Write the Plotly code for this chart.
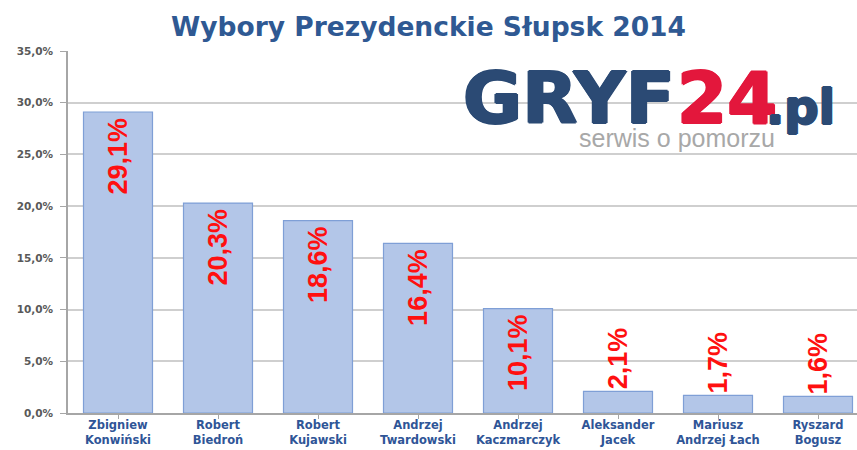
import plotly.graph_objects as go

# ---- data ----
candidates = [
    "Zbigniew<br>Konwiński",
    "Robert<br>Biedroń",
    "Robert<br>Kujawski",
    "Andrzej<br>Twardowski",
    "Andrzej<br>Kaczmarczyk",
    "Aleksander<br>Jacek",
    "Mariusz<br>Andrzej Łach",
    "Ryszard<br>Bogusz",
]
votes = [29.1, 20.3, 18.6, 16.4, 10.1, 2.1, 1.7, 1.6]
y_tick_values = [0, 5, 10, 15, 20, 25, 30, 35]
y_tick_labels = ["0,0%", "5,0%", "10,0%", "15,0%", "20,0%", "25,0%", "30,0%", "35,0%"]
title_text = "Wybory Prezydenckie Słupsk 2014"

# ---- geometry ----
W, H = 857, 450
ML, MR, MT, MB = 68, 0, 51, 37
PW, PH = W - ML - MR, H - MT - MB


def px_x(px):
    return (px - ML) / PW


def px_y(py):
    return (H - MB - py) / PH


fig = go.Figure()
fig.add_trace(go.Bar(
    x=list(range(len(candidates))),
    y=votes,
    width=0.69,
    marker=dict(color="#b3c6e8", line=dict(color="#7f9fd6", width=1.2)),
    hoverinfo="skip",
))

label_font = dict(family="Liberation Sans Narrow, Arial Narrow, Liberation Sans, Arial",
                  size=27, color="#ff1010", weight="bold")
annotations = []
for i, v in enumerate(votes):
    txt = f"{v:.1f}".replace(".", ",") + "%"
    inside = v >= 5
    annotations.append(dict(
        x=i, y=v, xref="x", yref="y", text=txt, showarrow=False,
        textangle=-90, font=label_font,
        yanchor="top" if inside else "bottom",
        yshift=-4 if inside else 0,
    ))


def thick(c):
    return f"1.2px 0 0 {c}, -1.2px 0 0 {c}, 0 1px 0 {c}, 0 -1px 0 {c}"


navy, red = "#2b4a74", "#e3173c"
# logo block
annotations += [
    dict(xref="paper", yref="paper", x=px_x(461), y=px_y(123), text="GRYF",
         xanchor="left", yanchor="bottom", showarrow=False, yshift=-19,
         font=dict(family="DejaVu Sans", size=72, color=navy, weight="bold", shadow=thick(navy))),
    dict(xref="paper", yref="paper", x=px_x(675), y=px_y(123), text="24",
         xanchor="left", yanchor="bottom", showarrow=False, yshift=-19,
         font=dict(family="DejaVu Sans", size=72, color=red, weight="bold", shadow=thick(red))),
    dict(xref="paper", yref="paper", x=px_x(764), y=px_y(123), text=".pl",
         xanchor="left", yanchor="bottom", showarrow=False, yshift=-14,
         font=dict(family="DejaVu Sans", size=48, color=navy, weight="bold", shadow=thick(navy))),
    dict(xref="paper", yref="paper", x=px_x(677), y=px_y(138), text="serwis o pomorzu",
         xanchor="center", yanchor="middle", showarrow=False,
         font=dict(family="Liberation Sans, Arial", size=25, color="#a8a8a8")),
]

fig.update_layout(
    width=W, height=H,
    margin=dict(l=ML, r=MR, t=MT, b=MB),
    paper_bgcolor="white", plot_bgcolor="white",
    showlegend=False,
    title=dict(text=title_text, x=0.5, xref="container", xanchor="center",
               y=1 - 27 / H, yref="container", yanchor="middle",
               font=dict(family="DejaVu Sans, sans-serif", size=26.5,
                         color="#2f5993", weight="bold")),
    annotations=annotations,
    shapes=[dict(type="rect", xref="paper", yref="paper",
                 x0=px_x(447), x1=px_x(851), y0=px_y(152), y1=px_y(72),
                 fillcolor="white", line=dict(width=0), layer="between")],
    xaxis=dict(
        range=[-0.5, 7.39],
        tickmode="array",
        tickvals=list(range(len(candidates))),
        ticktext=candidates,
        tickson="boundaries",
        ticks="outside", ticklen=4, tickcolor="#a6a6a6",
        ticklabelstandoff=-4,
        showline=True, linecolor="#a6a6a6", linewidth=1.5,
        showgrid=False, zeroline=False,
        tickfont=dict(family="DejaVu Sans", size=11.5, color="#2f5597", weight="bold"),
        fixedrange=True,
    ),
    yaxis=dict(
        range=[0, 35],
        tickmode="array",
        tickvals=y_tick_values,
        ticktext=y_tick_labels,
        ticks="outside", ticklen=6, tickcolor="#a6a6a6",
        ticklabelstandoff=5,
        showline=True, linecolor="#a6a6a6", linewidth=1.5,
        showgrid=True, gridcolor="#cfcfcf", gridwidth=1.5,
        zeroline=False,
        tickfont=dict(family="DejaVu Sans", size=10.5, color="#595959", weight="bold"),
        fixedrange=True,
    ),
)

fig.write_html("out.html", config={"displayModeBar": False},
               post_script="document.body.style.margin='0px';")
